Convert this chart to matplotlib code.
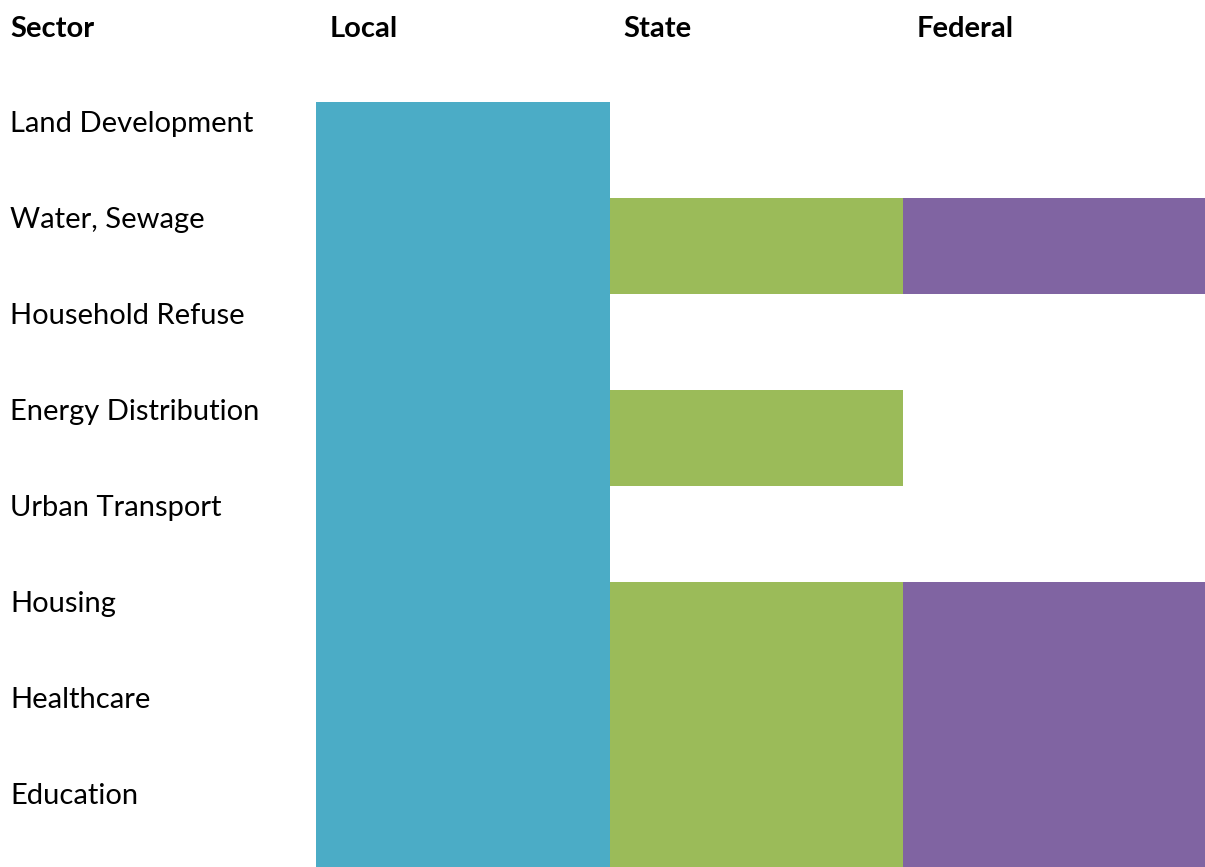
import numpy as np
import matplotlib.pyplot as plt
import matplotlib.transforms as mtransforms

sectors = ["Land Development", "Water, Sewage", "Household Refuse", "Energy Distribution",
           "Urban Transport", "Housing", "Healthcare", "Education"]
levels = ["Local", "State", "Federal"]
# 1 = responsibility at that level
local = [1, 1, 1, 1, 1, 1, 1, 1]
state = [0, 1, 0, 1, 0, 1, 1, 1]
federal = [0, 1, 0, 0, 0, 1, 1, 1]
colors = ["#4BACC6", "#9BBB59", "#8064A2"]

plt.rcParams['font.family'] = ['Lato', 'DejaVu Sans']

fig = plt.figure(figsize=(12.05, 8.67), dpi=100)
ax = fig.add_axes([0, 0, 1, 1])

# columns ~293.5px wide, local column starts at x=316px
colw = (903 - 316) / 2
ax.set_xlim(1 - 316 / colw, 1 + (1205 - 316) / colw)
# rows 96px high, first row starts at 102px
ax.set_ylim((867 - 102) / 96, -102 / 96)
ax.axis("off")

y = np.arange(len(sectors))
widths = [1, 1, 1.1]  # last column runs to the right edge
for j, vals in enumerate([local, state, federal]):
    vals = np.array(vals)
    ax.barh(y[vals == 1], widths[j], left=j + 1, height=1, align="edge",
            color=colors[j], linewidth=0)

trans = mtransforms.blended_transform_factory(fig.transFigure, ax.transData)
fs = 21
for i, s in enumerate(sectors):
    ax.text(10 / 1205, i + 30 / 96, s, transform=trans, fontsize=fs,
            va="baseline", ha="left", color="black")

hy = (37 - 102) / 96
ax.text(10 / 1205, hy, "Sector", transform=trans, fontsize=fs,
        fontweight="bold", va="baseline", ha="left")
for j, lev in enumerate(levels):
    ax.text(j + 1 + 14 / colw, hy, lev, fontsize=fs, fontweight="bold",
            va="baseline", ha="left")

fig.savefig("out.png", dpi=100, facecolor="white")
